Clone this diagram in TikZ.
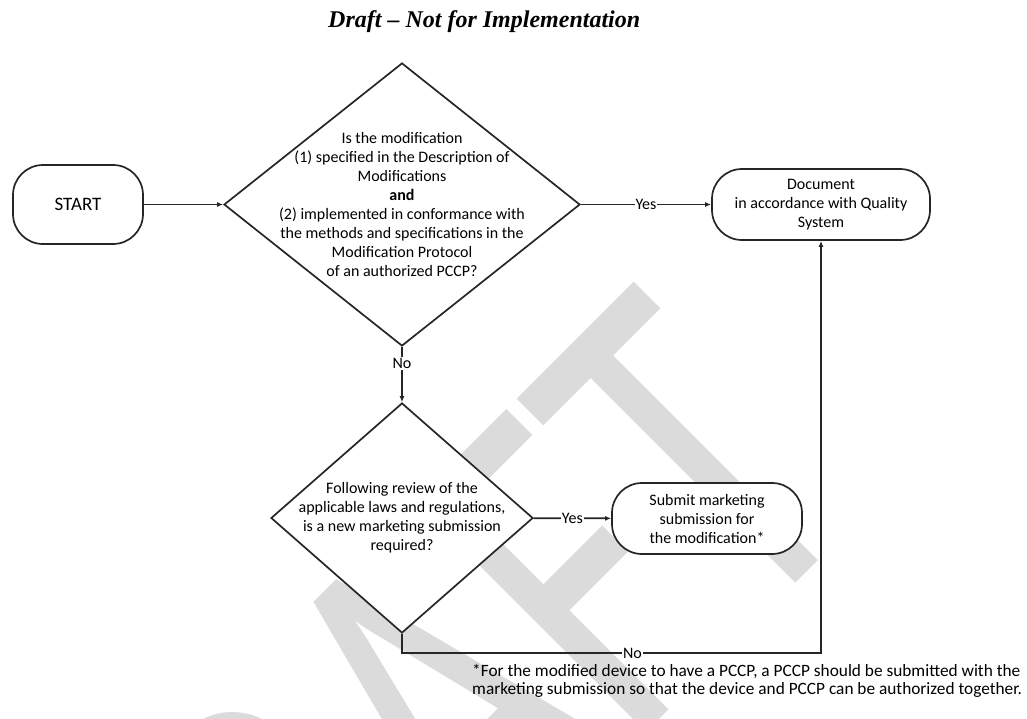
\documentclass[tikz,border=0pt]{standalone}
\usepackage{fontspec}
\setmainfont{Carlito}
\newfontfamily\titlefont{Liberation Serif}
\usetikzlibrary{shapes.geometric,arrows.meta}
\tikzset{
  term/.style={draw=black!85, line width=1.7pt, rounded corners=30pt, fill=white, align=center, inner sep=0pt},
  dia/.style={diamond, draw=black!85, line width=1.7pt, fill=white, inner sep=0pt},
  txt/.style={align=center, font=\fontsize{16}{19}\selectfont, inner sep=0pt},
  arr/.style={draw=black!85, line width=1.7pt, -{Latex[length=6pt,width=5pt]}},
  lbl/.style={fill=white, inner sep=1pt, font=\fontsize{16}{19}\selectfont},
  wmark/.style={rotate=45, xscale=0.7, anchor=base west, inner sep=0pt, outer sep=0pt, text=black!14, font=\fontsize{510}{510}\selectfont}
}
\begin{document}
\begin{tikzpicture}[x=1pt,y=-1pt]
\useasboundingbox (0,0) rectangle (1027,718);
\fill[white] (0,0) rectangle (1027,718);
% watermark
\node[wmark] (wm) at (191.4,1188) {DRAFT};
% title
\node[anchor=base west, inner sep=0pt, font=\titlefont\bfseries\itshape\fontsize{24}{27}\selectfont] (title) at (328,27) {Draft – Not for Implementation};
% nodes
\node[term, minimum width=130pt, minimum height=79pt, font=\fontsize{19}{22}\selectfont] (start) at (78,204.5) {START};
\node[dia, minimum width=356pt, minimum height=283pt] (d1) at (402,204.5) {};
\node[txt] (d1t) at (d1) {Is the modification\\(1) specified in the Description of\\Modifications\\\textbf{and}\\(2) implemented in conformance with\\the methods and specifications in the\\Modification Protocol\\of an authorized PCCP?};
\node[term, minimum width=218pt, minimum height=71pt, font=\fontsize{16}{19}\selectfont] (doc) at (821,204.5) {Document\\in accordance with Quality\\System};
\node[dia, minimum width=262pt, minimum height=230pt] (d2) at (402,518) {};
\node[txt] (d2t) at (d2) {Following review of the\\applicable laws and regulations,\\is a new marketing submission\\required?};
\node[term, minimum width=190pt, minimum height=71pt, font=\fontsize{16}{19}\selectfont] (sub) at (707,518.5) {Submit marketing\\submission for\\the modification*};
\coordinate (c1) at (402,653);
% connectors
\draw[arr] (start) -- (d1);
\draw[arr] (d1) -- node[lbl]{Yes} (doc);
\draw[arr] (d1) -- node[lbl, pos=0.3]{No} (d2);
\draw[arr] (d2) -- node[lbl]{Yes} (sub);
\draw[arr] (d2.south) -- (c1) -- node[lbl, pos=0.55]{No} (c1 -| doc.south) -- (doc.south);
% footnote
\node[anchor=north west, align=left, inner sep=0pt, font=\fontsize{17.3}{18}\selectfont] (fn) at (472,664) {*For the modified device to have a PCCP, a PCCP should be submitted with the\\marketing submission so that the device and PCCP can be authorized together.};
\end{tikzpicture}
\end{document}
